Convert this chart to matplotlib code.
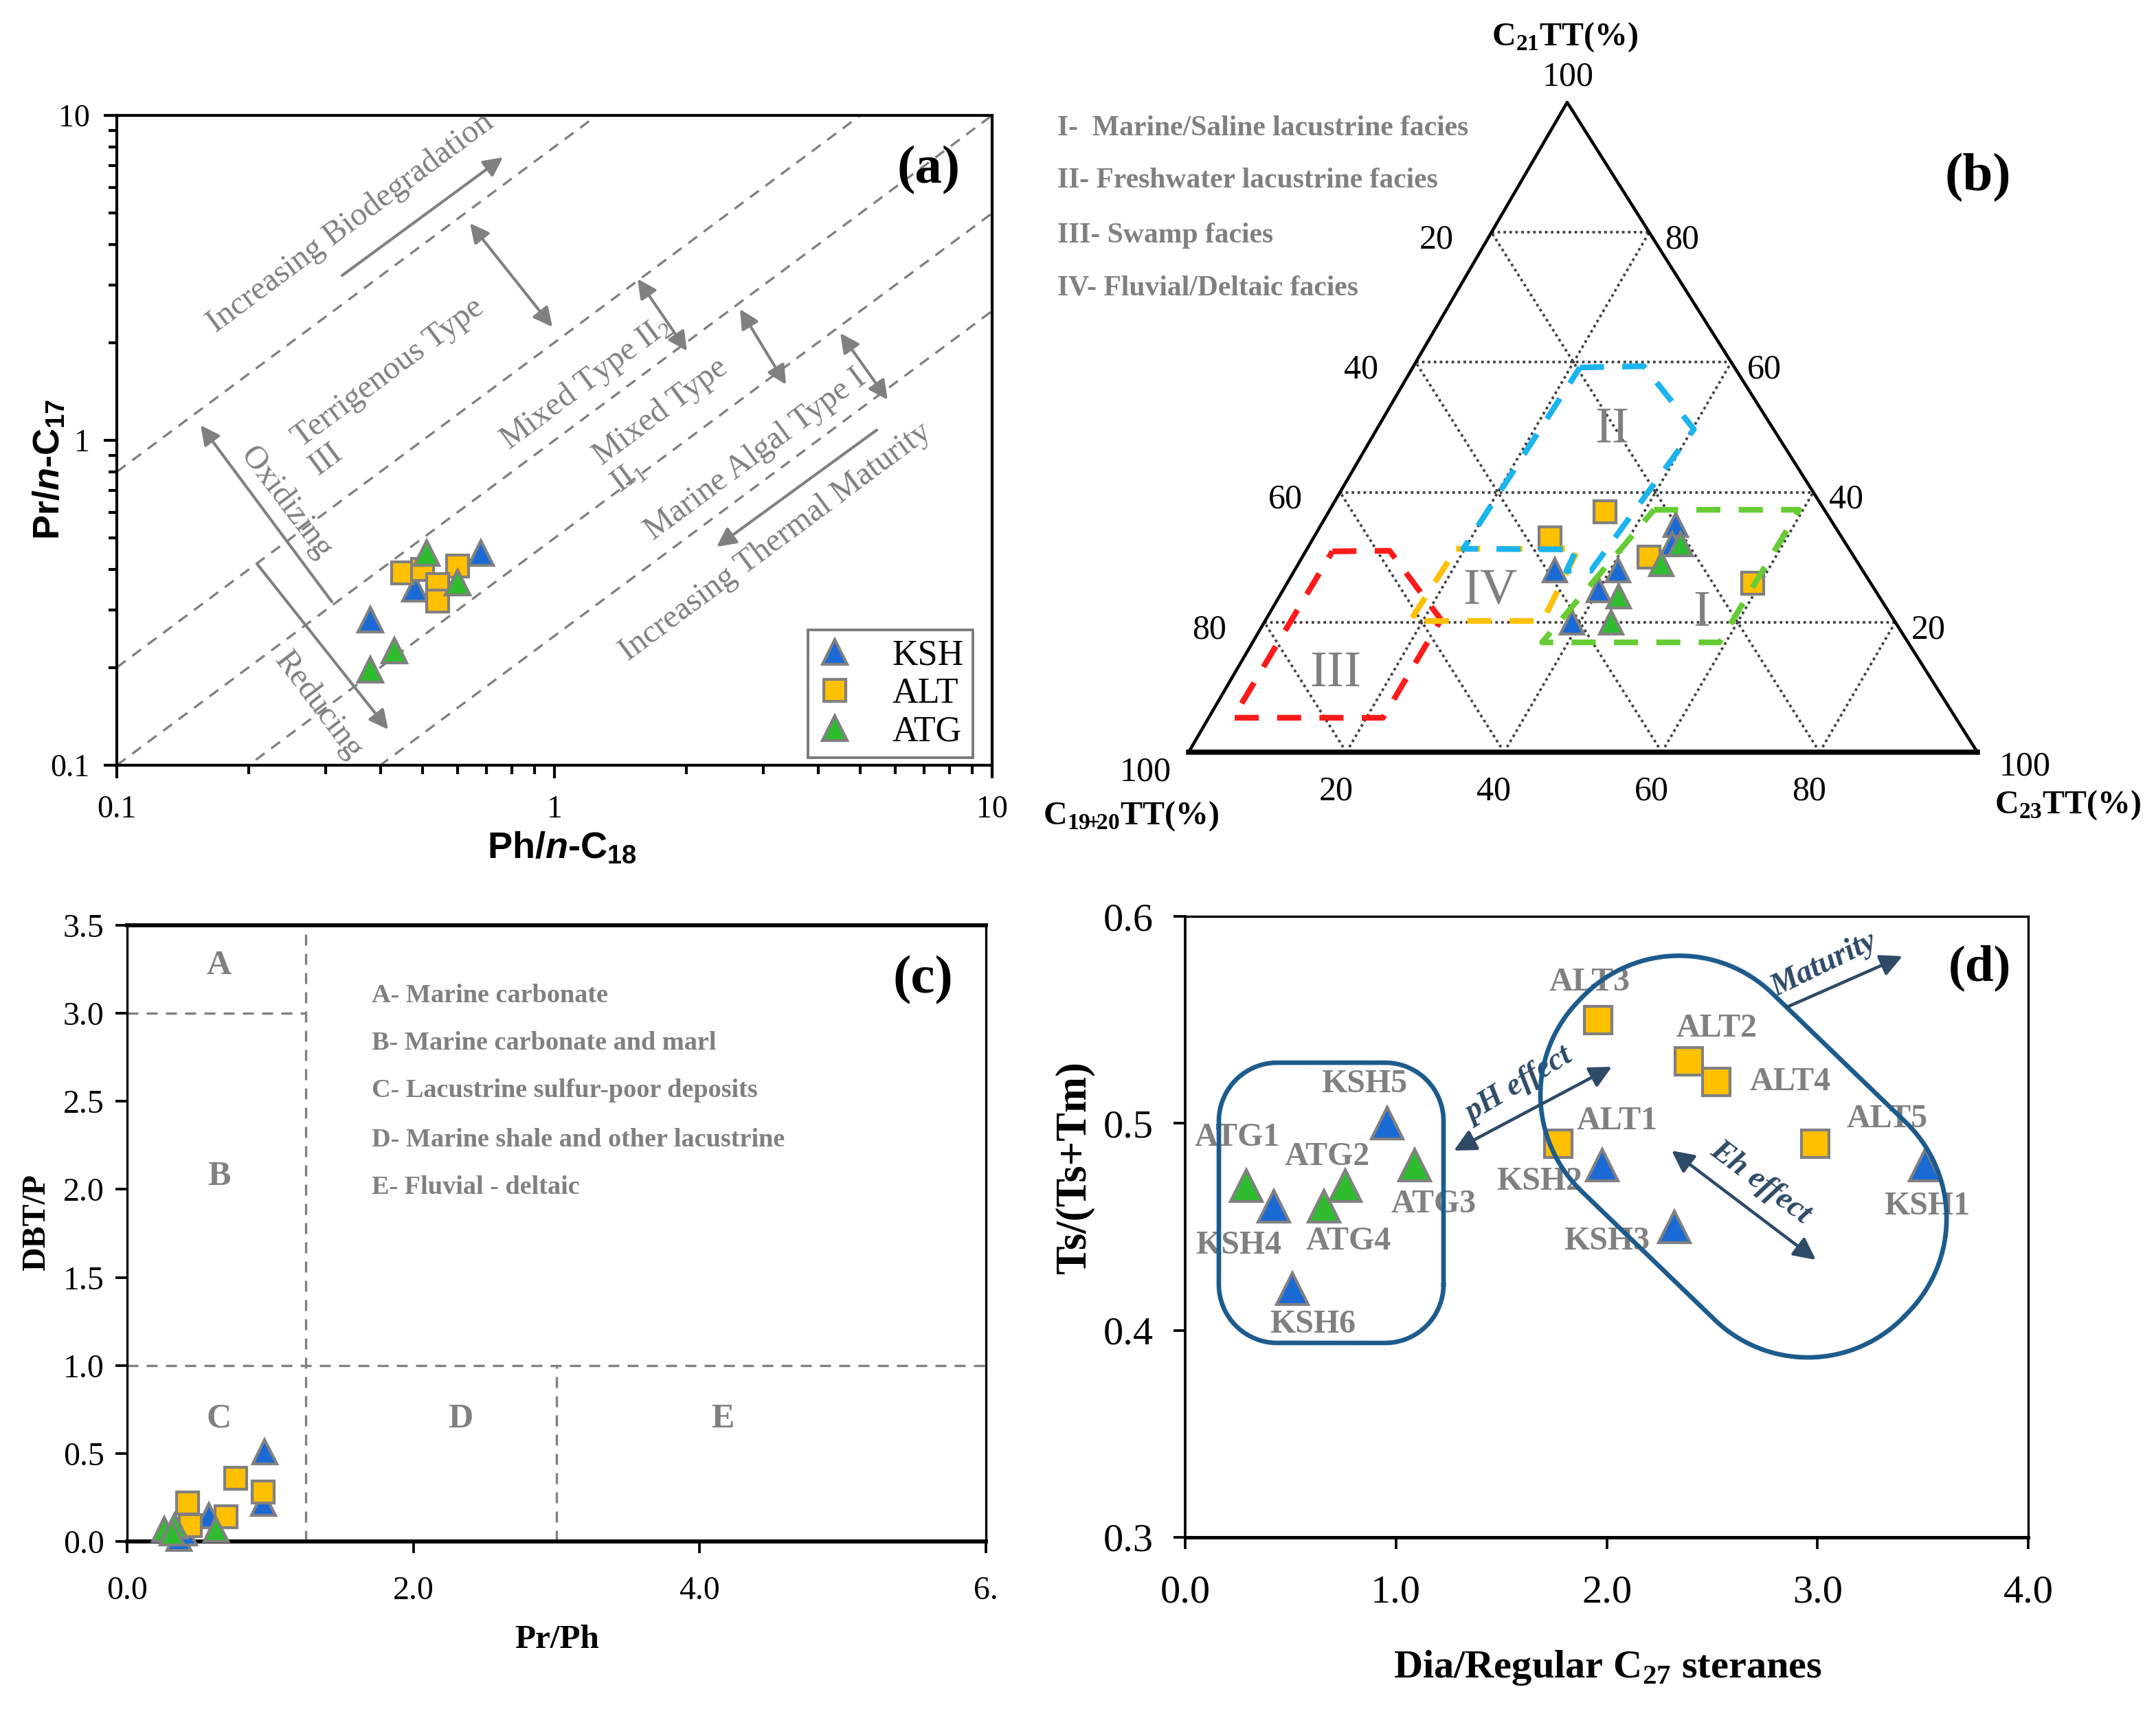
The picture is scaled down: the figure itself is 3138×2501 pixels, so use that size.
import numpy as np
import matplotlib
matplotlib.use('Agg')
import matplotlib.pyplot as plt
from matplotlib.ticker import FixedLocator, FixedFormatter, LogLocator, NullFormatter

plt.rcParams['font.family'] = ['Liberation Serif', 'DejaVu Serif']
plt.rcParams['mathtext.fontset'] = 'custom'
plt.rcParams['mathtext.rm'] = 'Liberation Serif'
plt.rcParams['mathtext.bf'] = 'Liberation Serif:bold'
plt.rcParams['mathtext.sf'] = 'Liberation Sans:bold'
plt.rcParams['mathtext.it'] = 'Liberation Sans:italic:bold'

# ---------------- data ----------------
groups = ['KSH', 'ALT', 'ATG']

# (a) Ph/n-C18 vs Pr/n-C17
a_ksh_x = [0.68, 0.48, 0.38]
a_ksh_y = [0.45, 0.35, 0.28]
a_alt_x = [0.45, 0.50, 0.60, 0.54, 0.54]
a_alt_y = [0.39, 0.40, 0.41, 0.36, 0.32]
a_atg_x = [0.51, 0.60, 0.43, 0.38]
a_atg_y = [0.45, 0.365, 0.225, 0.197]
a_boundary_ratio = [8, 2, 1, 0.5, 0.25]   # Pr/n-C17 = k * Ph/n-C18

# (b) ternary tricyclic terpanes (%): C19+20TT, C21TT, C23TT
b_ksh_c1920 = [39, 31, 35, 41, 20, 22]
b_ksh_c21 = [28, 28, 25, 20, 35, 32]
b_ksh_c23 = [33, 41, 40, 39, 45, 46]
b_alt_c1920 = [28, 37, 26, 15]
b_alt_c21 = [37, 33, 30, 26]
b_alt_c23 = [35, 30, 44, 59]
b_atg_c1920 = [33, 36, 21, 25]
b_atg_c21 = [24, 20, 32, 29]
b_atg_c23 = [43, 44, 47, 46]
# facies fields (ternary vertices, %)
b_field_I = [(21.6, 37.3, 41.1), (3.2, 37.3, 59.5), (23.9, 16.9, 59.2), (46.4, 16.9, 36.7)]
b_field_II = [(19.6, 59.2, 21.2), (11.4, 59.4, 29.2), (10.1, 49.7, 40.2), (34.5, 27.9, 37.6),
              (37.6, 27.9, 34.5), (34.6, 31.2, 34.2), (48.9, 31.3, 19.8)]
b_field_III = [(65.7, 30.9, 3.4), (58.4, 31.0, 10.6), (57.4, 20.4, 22.2), (72.6, 5.3, 22.1), (91.6, 5.3, 3.1)]
b_field_IV = [(49.8, 31.3, 18.9), (34.3, 31.3, 34.4), (44.6, 20.2, 35.2), (61.4, 20.2, 18.4)]
b_ticks = [20, 40, 60, 80]

# (c) Pr/Ph vs DBT/P
c_ksh_x = [0.96, 0.95, 0.57, 0.36, 0.40]
c_ksh_y = [0.51, 0.22, 0.15, 0.02, 0.05]
c_alt_x = [0.76, 0.95, 0.42, 0.69, 0.44]
c_alt_y = [0.36, 0.28, 0.22, 0.14, 0.09]
c_atg_x = [0.26, 0.33, 0.62, 0.31]
c_atg_y = [0.07, 0.09, 0.07, 0.05]
c_prph_cuts = [1.25, 3.0]
c_dbtp_cuts = [1.0, 3.0]

# (d) Dia/Regular C27 steranes vs Ts/(Ts+Tm)
d_ksh_names = ['KSH1', 'KSH2', 'KSH3', 'KSH4', 'KSH5', 'KSH6']
d_ksh_x = [3.51, 1.98, 2.32, 0.42, 0.96, 0.51]
d_ksh_y = [0.48, 0.48, 0.45, 0.46, 0.50, 0.42]
d_alt_names = ['ALT1', 'ALT2', 'ALT3', 'ALT4', 'ALT5']
d_alt_x = [1.77, 2.39, 1.96, 2.52, 2.99]
d_alt_y = [0.49, 0.53, 0.55, 0.52, 0.49]
d_atg_names = ['ATG1', 'ATG2', 'ATG3', 'ATG4']
d_atg_x = [0.29, 0.76, 1.09, 0.66]
d_atg_y = [0.47, 0.47, 0.48, 0.46]
# label anchor positions (data units)
d_label_pos = {
    'KSH1': (3.52, 0.460), 'KSH2': (1.68, 0.472), 'KSH3': (2.00, 0.443),
    'KSH4': (0.254, 0.441), 'KSH5': (0.85, 0.519), 'KSH6': (0.605, 0.403),
    'ALT1': (2.05, 0.501), 'ALT2': (2.52, 0.546), 'ALT3': (1.92, 0.568),
    'ALT4': (2.87, 0.520), 'ALT5': (3.33, 0.502),
    'ATG1': (0.248, 0.493), 'ATG2': (0.673, 0.484), 'ATG3': (1.18, 0.461), 'ATG4': (0.773, 0.443),
}

# ---------------- styles ----------------
C_KSH = '#1a6ad6'
C_ALT = '#ffc000'
C_ATG = '#2fbd2f'
EDGE = '#808080'
GRAY = '#808080'
DARK = '#2e4a66'
RING = '#1d5b8c'

W, H = 3138, 2501
fig = plt.figure(figsize=(W / 300, H / 300), dpi=300)


def frac(l, t, r, b):
    return [l / W, 1 - b / H, (r - l) / W, (b - t) / H]


ax_a = fig.add_axes(frac(170, 168, 1444, 1114))
ax_c = fig.add_axes(frac(185, 1347, 1435, 2244))
ax_d = fig.add_axes(frac(1725, 1334, 2952, 2238))
ov = fig.add_axes([0, 0, 1, 1])
ov.set_xlim(0, W)
ov.set_ylim(H, 0)
ov.axis('off')

mk = dict(ls='none', mec=EDGE, mew=1.0, zorder=4)

# ================= (a) =================
ax_a.set_xscale('log')
ax_a.set_yscale('log')
ax_a.set_xlim(0.1, 10)
ax_a.set_ylim(0.1, 10)
xs = np.array([0.1, 10.0])
for k in a_boundary_ratio:
    ax_a.plot(xs, k * xs, ls=(0, (4.8, 3.6)), color=GRAY, lw=0.8, zorder=2)
h1, = ax_a.plot(a_ksh_x, a_ksh_y, marker='^', ms=8.6, mfc=C_KSH, **mk)
h2, = ax_a.plot(a_alt_x, a_alt_y, marker='s', ms=7.8, mfc=C_ALT, **mk)
h3, = ax_a.plot(a_atg_x, a_atg_y, marker='^', ms=8.6, mfc=C_ATG, **mk)
for axis in (ax_a.xaxis, ax_a.yaxis):
    axis.set_major_locator(FixedLocator([0.1, 1, 10]))
    axis.set_major_formatter(FixedFormatter(['0.1', '1', '10']))
    axis.set_minor_locator(LogLocator(base=10, subs=np.arange(2, 10)))
    axis.set_minor_formatter(NullFormatter())
ax_a.tick_params(which='major', direction='out', length=4.5, width=1.0, labelsize=11)
ax_a.tick_params(which='minor', direction='out', length=3.0, width=1.0)
ax_a.tick_params(axis='x', which='major', pad=6)
ax_a.tick_params(axis='y', which='major', pad=5)
for s in ax_a.spines.values():
    s.set_linewidth(1.0)
leg = ax_a.legend([h1, h2, h3], groups, loc='lower right', bbox_to_anchor=(0.978, 0.012),
                  frameon=True, fancybox=False, edgecolor='#555555', fontsize=12.5,
                  handlelength=1.0, handletextpad=1.1, labelspacing=0.15, borderpad=0.25,
                  borderaxespad=0)
leg.get_frame().set_linewidth(0.9)

ov.text(72, 683, r'Pr/$\mathit{n}$-C$_{\mathsf{17}}$', rotation=90, ha='center', va='center',
        family='Liberation Sans', weight='bold', size=13)
ov.text(818, 1234, r'Ph/$\mathit{n}$-C$_{\mathsf{18}}$', ha='center', va='center',
        family='Liberation Sans', weight='bold', size=13)
ov.text(1352, 248, '(a)', ha='center', va='center', weight='bold', size=19)

rot_a = 36.6
a_texts = [
    ('Increasing Biodegradation', 510, 324, rot_a),
    ('Terrigenous Type', 565, 543, rot_a),
    ('III', 474, 669, rot_a),
    (r'Mixed Type II$_2$', 852, 557, rot_a),
    ('Mixed Type', 962, 599, rot_a),
    (r'II$_1$', 914, 694, rot_a),
    ('Marine Algal Type I', 1100, 662, rot_a),
    ('Increasing Thermal Maturity', 1129, 789, rot_a),
    ('Oxidizing', 416, 732, -53),
    ('Reducing', 464, 1027, -53),
]
for t, x, y, r in a_texts:
    ov.text(x, y, t, rotation=r, rotation_mode='anchor', ha='center', va='center',
            color=GRAY, size=11.5)

a_arrows = [
    ((498, 401), (732, 229), '-|>'),
    ((684, 325), (804, 476), '<|-|>'),
    ((928, 406), (1000, 511), '<|-|>'),
    ((1077, 450), (1144, 560), '<|-|>'),
    ((1223, 485), (1292, 582), '<|-|>'),
    ((1276, 626), (1043, 796), '-|>'),
    ((483, 876), (292, 619), '-|>'),
    ((375, 822), (565, 1062), '-|>'),
]
for p0, p1, st in a_arrows:
    ov.annotate('', xy=p1, xytext=p0,
                arrowprops=dict(arrowstyle=st, color=GRAY, lw=1.0, mutation_scale=14,
                                shrinkA=0, shrinkB=0))

# ================= (b) ternary =================
VL, VT, VR = (1730.0, 1095.0), (2281.0, 149.0), (2878.0, 1095.0)


def tern(a, b, c):
    a = np.asarray(a, float)
    b = np.asarray(b, float)
    c = np.asarray(c, float)
    s = a + b + c
    x = (a * VL[0] + b * VT[0] + c * VR[0]) / s
    y = (a * VL[1] + b * VT[1] + c * VR[1]) / s
    return x, y


# grid
for v in b_ticks:
    for p, q in [((100 - v, v, 0), (0, v, 100 - v)),
                 ((100 - v, 0, v), (0, 100 - v, v)),
                 ((v, 0, 100 - v), (v, 100 - v, 0))]:
        x0, y0 = tern(*p)
        x1, y1 = tern(*q)
        ov.plot([x0, x1], [y0, y1], ls=(0, (1, 1.3)), color='#404040', lw=0.9, zorder=1)
# frame
tx, ty = tern([100, 0, 0, 100], [0, 100, 0, 0], [0, 0, 100, 0])
ov.plot(tx[:3], ty[:3], color='black', lw=1.1, zorder=2)
ov.plot([tx[2], tx[3]], [ty[2], ty[3]], color='black', lw=1.8, zorder=2)

# points
for c1, c2, c3, m, ms, col in [(b_ksh_c1920, b_ksh_c21, b_ksh_c23, '^', 8.0, C_KSH),
                               (b_alt_c1920, b_alt_c21, b_alt_c23, 's', 7.5, C_ALT),
                               (b_atg_c1920, b_atg_c21, b_atg_c23, '^', 8.0, C_ATG)]:
    px, py = tern(c1, c2, c3)
    ov.plot(px, py, marker=m, ms=ms, mfc=col, **mk)

# facies fields
for field, col in [(b_field_III, '#ff1a1a'), (b_field_IV, '#ffc000'),
                   (b_field_II, '#1ab4ee'), (b_field_I, '#66cc33')]:
    pts = field + [field[0]]
    fx, fy = tern([p[0] for p in pts], [p[1] for p in pts], [p[2] for p in pts])
    ov.plot(fx, fy, color=col, lw=2.0, ls=(0, (4.2, 3.2)), zorder=5, solid_joinstyle='round')

for v in b_ticks:
    x, y = tern(v, 100 - v, 0)
    ov.text(x - 80, y + 11, str(v), ha='center', va='center', size=12)
    x, y = tern(0, v, 100 - v)
    ov.text(x + 48, y + 11, str(v), ha='center', va='center', size=12)
    x, y = tern(100 - v, 0, v)
    ov.text(x - 15, y + 57, str(v), ha='center', va='center', size=12)
ov.text(VT[0] + 1, VT[1] - 37, '100', ha='center', va='center', size=12)
ov.text(VL[0] - 63, VL[1] + 29, '100', ha='center', va='center', size=12)
ov.text(VR[0] + 69, VR[1] + 21, '100', ha='center', va='center', size=12)
ov.text(2278, 54, r'C$_{\mathbf{21}}$TT(%)', ha='center', va='center', weight='bold', size=11.5)
ov.text(1646, 1188, r'C$_{\mathbf{19}\!\mathbf{+}\!\mathbf{20}}$TT(%)', ha='center', va='center',
        weight='bold', size=11.5)
ov.text(3010, 1172, r'C$_{\mathbf{23}}$TT(%)', ha='center', va='center', weight='bold', size=11.5)

for t, x, y in [('II', 2346, 626), ('IV', 2169, 861), ('I', 2477, 893), ('III', 1944, 981)]:
    ov.text(x, y, t, ha='center', va='center', color=GRAY, size=18)

for t, y in [('I-  Marine/Saline lacustrine facies', 187),
             ('II- Freshwater lacustrine facies', 263),
             ('III- Swamp facies', 343),
             ('IV- Fluvial/Deltaic facies', 420)]:
    ov.text(1539, y, t, ha='left', va='center', color=GRAY, weight='bold', size=10)
ov.text(2879, 259, '(b)', ha='center', va='center', weight='bold', size=19)

# ================= (c) =================
ax_c.set_xlim(0, 6)
ax_c.set_ylim(0, 3.5)
dash = dict(ls=(0, (4.8, 3.6)), color=GRAY, lw=0.8, zorder=2)
ax_c.plot([c_prph_cuts[0]] * 2, [0, 3.5], **dash)
ax_c.plot([0, c_prph_cuts[0]], [c_dbtp_cuts[1]] * 2, **dash)
ax_c.plot([0, 6], [c_dbtp_cuts[0]] * 2, **dash)
ax_c.plot([c_prph_cuts[1]] * 2, [0, c_dbtp_cuts[0]], **dash)
ax_c.plot(c_ksh_x, c_ksh_y, marker='^', ms=8.4, mfc=C_KSH, clip_on=False, **mk)
ax_c.plot(c_alt_x, c_alt_y, marker='s', ms=7.8, mfc=C_ALT, clip_on=False, **mk)
ax_c.plot(c_atg_x, c_atg_y, marker='^', ms=8.4, mfc=C_ATG, clip_on=False, **mk)
ax_c.set_xticks([0, 2, 4, 6])
ax_c.set_xticklabels(['0.0', '2.0', '4.0', '6.'])
ax_c.set_yticks(np.arange(0, 3.51, 0.5))
ax_c.set_yticklabels(['%.1f' % v for v in np.arange(0, 3.51, 0.5)])
ax_c.tick_params(direction='out', length=4, width=0.9, labelsize=11.5)
ax_c.tick_params(axis='x', pad=8)
ax_c.tick_params(axis='y', pad=4)
for side, lw in [('top', 1.4), ('bottom', 1.4), ('left', 0.8), ('right', 0.8)]:
    ax_c.spines[side].set_linewidth(lw)
for t, x, y in [('A', 0.643, 3.27), ('B', 0.643, 2.07), ('C', 0.643, 0.695),
                ('D', 2.33, 0.695), ('E', 4.16, 0.695)]:
    ax_c.text(x, y, t, ha='center', va='center', color=GRAY, weight='bold', size=12)
for t, y in [('A- Marine carbonate', 3.10), ('B- Marine carbonate and marl', 2.83),
             ('C- Lacustrine sulfur-poor deposits', 2.56),
             ('D- Marine shale and other lacustrine', 2.28), ('E- Fluvial - deltaic', 2.01)]:
    ax_c.text(1.71, y, t, ha='left', va='center', color=GRAY, weight='bold', size=9.2)
ax_c.text(5.56, 3.19, '(c)', ha='center', va='center', weight='bold', size=19)
ov.text(53, 1779, 'DBT/P', rotation=90, ha='center', va='center', weight='bold', size=11.5)
ov.text(811, 2387, 'Pr/Ph', ha='center', va='center', weight='bold', size=11.8)

# ================= (d) =================
ax_d.set_xlim(0, 4)
ax_d.set_ylim(0.3, 0.6)
ax_d.plot(d_ksh_x, d_ksh_y, marker='^', ms=11.0, mfc=C_KSH, **mk)
ax_d.plot(d_alt_x, d_alt_y, marker='s', ms=9.8, mfc=C_ALT, **mk)
ax_d.plot(d_atg_x, d_atg_y, marker='^', ms=11.0, mfc=C_ATG, **mk)
for name in d_ksh_names + d_alt_names + d_atg_names:
    x, y = d_label_pos[name]
    ax_d.text(x, y, name, ha='center', va='center', color=GRAY, weight='bold', size=11.5, zorder=5)
ax_d.set_xticks([0, 1, 2, 3, 4])
ax_d.set_xticklabels(['0.0', '1.0', '2.0', '3.0', '4.0'])
ax_d.set_yticks([0.3, 0.4, 0.5, 0.6])
ax_d.set_yticklabels(['0.3', '0.4', '0.5', '0.6'])
ax_d.tick_params(direction='out', length=4, width=0.9, labelsize=14)
ax_d.tick_params(axis='x', pad=9)
ax_d.tick_params(axis='y', pad=7)
for side, lw in [('top', 0.8), ('bottom', 1.2), ('left', 0.9), ('right', 0.8)]:
    ax_d.spines[side].set_linewidth(lw)
ov.text(2881, 1409, '(d)', ha='center', va='center', weight='bold', size=18)
ov.text(1564, 1700, 'Ts/(Ts+Tm)', rotation=90, ha='center', va='center', weight='bold', size=15)
ov.text(2340, 2428, r'Dia/Regular C$_{\mathbf{27}}$ steranes', ha='center', va='center',
        weight='bold', size=14)


def rrect(cx, cy, L, Wd, r, ang_deg, n=40):
    hx, hy = L / 2 - r, Wd / 2 - r
    pts = []
    for sx, sy, a0 in [(1, 1, 0), (-1, 1, 90), (-1, -1, 180), (1, -1, 270)]:
        t = np.radians(np.linspace(a0, a0 + 90, n))
        for tt in t:
            pts.append((sx * hx + r * np.cos(tt), sy * hy + r * np.sin(tt)))
    pts.append(pts[0])
    u = np.array(pts)
    a = np.radians(ang_deg)
    x = cx + u[:, 0] * np.cos(a) - u[:, 1] * np.sin(a)
    y = cy + u[:, 0] * np.sin(a) + u[:, 1] * np.cos(a)
    return x, y


x, y = rrect(1937.5, 1751, 327, 408, 85, 0)
ov.plot(x, y, color=RING, lw=1.6, zorder=6)
x, y = rrect(2537.6, 1683.7, 660, 400, 195, 44)
ov.plot(x, y, color=RING, lw=1.6, zorder=6)

d_arrows = [((2601, 1466), (2769, 1392), '-|>'),
            ((2116, 1675), (2346, 1553), '<|-|>'),
            ((2433, 1675), (2643, 1834), '<|-|>')]
for p0, p1, st in d_arrows:
    ov.annotate('', xy=p1, xytext=p0,
                arrowprops=dict(arrowstyle=st, color=DARK, lw=1.1, mutation_scale=16,
                                shrinkA=0, shrinkB=0), zorder=6)
for t, x, y, r in [('Maturity', 2655, 1405, 26), ('pH effect', 2211, 1580, 31),
                   ('Eh effect', 2562, 1722, -37)]:
    ov.text(x, y, t, rotation=r, rotation_mode='anchor', ha='center', va='center',
            color=DARK, style='italic', weight='bold', size=11)

fig.savefig('out.png', dpi=300)
